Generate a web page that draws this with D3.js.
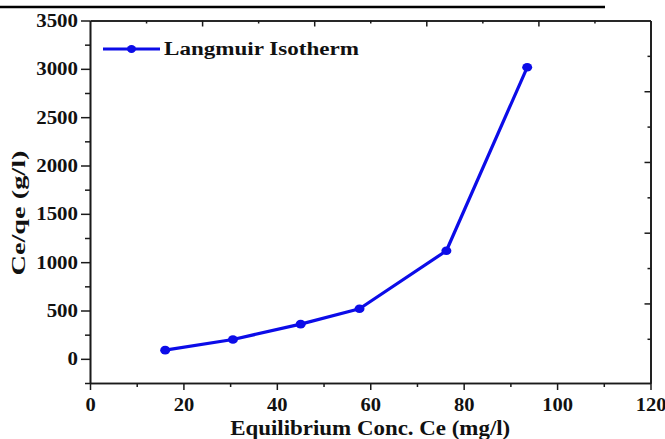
<!DOCTYPE html>
<html lang="en">
<head>
    <meta charset="UTF-8">
    <title>Langmuir Isotherm</title>
    <script src="https://d3js.org/d3.v7.min.js"></script>
    <style>
        body { margin: 0; background: #fff; }
        svg { display: block; }
        text { font-family: "Liberation Serif", "Times New Roman", serif; font-weight: bold; fill: #111; }
    </style>
</head>
<body>
    <script>
        // data
        const ceData = [16.1, 30.6, 45.1, 57.7, 76.3, 93.6];      // Equilibrium Conc. Ce (mg/l)
        const ceqeData = [90, 200, 359, 518, 1118, 3016];          // Ce/qe (g/l)
        const xTicks = [0, 20, 40, 60, 80, 100, 120];
        const xMinorTicks = [10, 30, 50, 70, 90, 110];
        const yTicks = [0, 500, 1000, 1500, 2000, 2500, 3000, 3500];
        const yMinorTicks = [-250, 250, 750, 1250, 1750, 2250, 2750, 3250];
        const seriesName = "Langmuir Isotherm";

        const w = 665;
        const h = 439;
        const padLeft = 90, padRight = 650.5, padTop = 20.5, padBottom = 383;
        const blue = "#0c0ce8";
        const ink = "#1a1a1a";

        const svg = d3.select("body").append("svg")
            .attr("width", w)
            .attr("height", h);

        // the picture's text is a bit wider than the font, stretch it
        function stretch(sel, factor) {
            sel.each(function() {
                const len = this.getComputedTextLength();
                d3.select(this)
                    .attr("textLength", len * factor)
                    .attr("lengthAdjust", "spacingAndGlyphs");
            });
        }

        // line across the top of the figure
        svg.append("line")
            .attr("x1", 0).attr("x2", 605)
            .attr("y1", 7).attr("y2", 7)
            .attr("stroke", "#000")
            .attr("stroke-width", 2.5);

        // scales
        const x = d3.scaleLinear().domain([0, 120]).range([padLeft, padRight]);
        const y = d3.scaleLinear().domain([-250, 3500]).range([padBottom, padTop]);
        // mirror axes on top and right have their own tick spacing
        const xTop = d3.scaleLinear().domain([0, 10]).range([padLeft, padRight]);
        const yRight = d3.scaleLinear().domain([0, 10.25]).range([padTop, padBottom]);

        function styleAxis(g) {
            g.selectAll("path, line").attr("stroke", ink).attr("stroke-width", 1.5);
            g.select(".domain").attr("stroke-width", 1.6);
            g.selectAll("text").attr("fill", ink)
                .style("font-family", "'Liberation Serif', serif")
                .style("font-weight", "bold")
                .style("font-size", "18.5px");
        }

        // bottom axis
        svg.append("g")
            .attr("transform", `translate(0,${padBottom})`)
            .call(d3.axisBottom(x).tickValues(xMinorTicks).tickSize(4).tickFormat("").tickSizeOuter(0))
            .call(styleAxis);
        const xAxisG = svg.append("g")
            .attr("transform", `translate(0,${padBottom})`)
            .call(d3.axisBottom(x).tickValues(xTicks).tickSize(7).tickFormat(d3.format("d")).tickSizeOuter(0))
            .call(styleAxis);
        xAxisG.selectAll("text").attr("y", 28).attr("dy", null).style("font-size", "19px");
        stretch(xAxisG.selectAll("text"), 1.08);

        // left axis
        svg.append("g")
            .attr("transform", `translate(${padLeft},0)`)
            .call(d3.axisLeft(y).tickValues(yMinorTicks).tickSize(5).tickFormat("").tickSizeOuter(0))
            .call(styleAxis);
        const yAxisG = svg.append("g")
            .attr("transform", `translate(${padLeft},0)`)
            .call(d3.axisLeft(y).tickValues(yTicks).tickSize(9).tickPadding(3).tickFormat(d3.format("d")).tickSizeOuter(0))
            .call(styleAxis);
        stretch(yAxisG.selectAll("text"), 1.13);

        // top axis, ticks inside
        const mirrorK = d3.range(1, 10);
        svg.append("g")
            .attr("transform", `translate(0,${padTop})`)
            .call(d3.axisBottom(xTop).tickValues(mirrorK.filter(k => k % 2)).tickSize(3).tickFormat("").tickSizeOuter(0))
            .call(styleAxis);
        svg.append("g")
            .attr("transform", `translate(0,${padTop})`)
            .call(d3.axisBottom(xTop).tickValues(mirrorK.filter(k => k % 2 === 0)).tickSize(6).tickFormat("").tickSizeOuter(0))
            .call(styleAxis);

        // right axis, ticks inside
        svg.append("g")
            .attr("transform", `translate(${padRight},0)`)
            .call(d3.axisLeft(yRight).tickValues(mirrorK.filter(k => k % 2)).tickSize(3).tickFormat("").tickSizeOuter(0))
            .call(styleAxis);
        svg.append("g")
            .attr("transform", `translate(${padRight},0)`)
            .call(d3.axisLeft(yRight).tickValues(mirrorK.filter(k => k % 2 === 0)).tickSize(6).tickFormat("").tickSizeOuter(0))
            .call(styleAxis);

        // series line + markers
        const line = d3.line()
            .x((d, i) => x(ceData[i]))
            .y((d, i) => y(ceqeData[i]));
        svg.append("path")
            .datum(ceData)
            .attr("d", line)
            .attr("fill", "none")
            .attr("stroke", blue)
            .attr("stroke-width", 3.2)
            .attr("stroke-linejoin", "round");
        svg.selectAll("ellipse.pt")
            .data(ceData)
            .enter()
            .append("ellipse")
            .attr("class", "pt")
            .attr("cx", (d, i) => x(ceData[i]))
            .attr("cy", (d, i) => y(ceqeData[i]))
            .attr("rx", 5)
            .attr("ry", 4.3)
            .attr("fill", blue);

        // legend
        svg.append("line")
            .attr("x1", 103).attr("x2", 160)
            .attr("y1", 49).attr("y2", 49)
            .attr("stroke", blue)
            .attr("stroke-width", 3.2);
        svg.append("ellipse")
            .attr("cx", 131.5).attr("cy", 49)
            .attr("rx", 4.5).attr("ry", 4)
            .attr("fill", blue);
        svg.append("text")
            .attr("x", 164)
            .attr("y", 55)
            .style("font-size", "18.5px")
            .attr("textLength", 195)
            .attr("lengthAdjust", "spacingAndGlyphs")
            .text(seriesName);

        // axis titles
        svg.append("text")
            .attr("x", (padLeft + padRight) / 2)
            .attr("y", 435)
            .attr("text-anchor", "middle")
            .style("font-size", "21px")
            .attr("textLength", 280)
            .attr("lengthAdjust", "spacingAndGlyphs")
            .text("Equilibrium Conc. Ce (mg/l)");
        svg.append("text")
            .attr("transform", "translate(25,213) rotate(-90)")
            .attr("text-anchor", "middle")
            .style("font-size", "18px")
            .attr("textLength", 125)
            .attr("lengthAdjust", "spacingAndGlyphs")
            .text("Ce/qe (g/l)");
    </script>
</body>
</html>
